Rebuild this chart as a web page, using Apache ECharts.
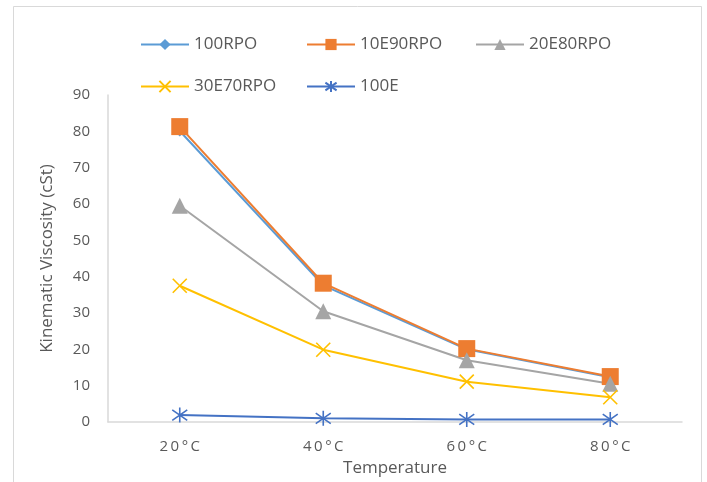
<!DOCTYPE html>
<html>
<head>
<meta charset="utf-8">
<script src="https://cdn.jsdelivr.net/npm/echarts@6/dist/echarts.min.js"></script>
<style>
  html, body { margin: 0; padding: 0; background: #fff; }
  #chart { width: 707px; height: 482px; }
</style>
</head>
<body>
<div id="chart"></div>
<script>
// data
const temps = ['20°C', '40°C', '60°C', '80°C'];
const rpo100 = [80.1, 37.6, 20.0, 12.3];
const e10rpo90 = [81.3, 38.2, 20.2, 12.5];
const e20rpo80 = [59.5, 30.5, 17.0, 10.5];
const e30rpo70 = [37.5, 19.9, 11.1, 6.8];
const e100 = [1.9, 1.0, 0.7, 0.7];

const crossPath = 'path://M0,0L10,10M10,0L0,10';
const starPath = 'path://M5,0L5,10M0,1.5L10,8.5M10,1.5L0,8.5';

const chart = echarts.init(document.getElementById('chart'));

function mkSeries(name, data, color, symbol, size, stroke) {
  return {
    name: name,
    type: 'line',
    data: data,
    symbol: symbol,
    symbolSize: size,
    showAllSymbol: true,
    lineStyle: { color: color, width: 2 },
    itemStyle: stroke
      ? { color: color, borderColor: color, borderWidth: 1.6 }
      : { color: color, borderWidth: 0 },
    emphasis: { disabled: true },
    z: 2
  };
}

function mkLegend(name, left, top) {
  return {
    data: [name],
    left: left,
    top: top,
    padding: 0,
    itemWidth: 48,
    itemHeight: 14,
    itemGap: 4,
    textStyle: { color: '#595959', fontSize: 17, fontFamily: 'Open Sans' }
  };
}

const option = {
  animation: false,
  backgroundColor: '#fff',
  graphic: [{
    type: 'rect',
    shape: { x: 13.5, y: 6.5, width: 688, height: 495 },
    style: { fill: 'none', stroke: '#D9D9D9', lineWidth: 1 }
  }],
  legend: [
    mkLegend('100RPO', 140, 36),
    mkLegend('10E90RPO', 306, 36),
    mkLegend('20E80RPO', 475, 36),
    mkLegend('30E70RPO', 140, 78),
    mkLegend('100E', 306, 78)
  ],
  grid: { left: 108, right: 25, top: 95, bottom: 60 },
  xAxis: {
    type: 'category',
    data: temps,
    name: 'Temperature',
    nameLocation: 'middle',
    nameGap: 38,
    nameTextStyle: { color: '#595959', fontSize: 17, fontFamily: 'Open Sans' },
    axisLine: { lineStyle: { color: '#D9D9D9', width: 1.5 } },
    axisTick: { show: false },
    axisLabel: {
      color: '#595959', fontSize: 15, fontFamily: 'Open Sans', margin: 17,
      // the original spreads the characters apart
      formatter: function (v) { return v.split('').join('\u2009'); }
    }
  },
  yAxis: {
    type: 'value',
    min: 0,
    max: 90,
    interval: 10,
    name: 'Kinematic Viscosity (cSt)',
    nameLocation: 'middle',
    nameGap: 52,
    nameTextStyle: { color: '#595959', fontSize: 17, fontFamily: 'Open Sans' },
    axisLine: { show: true, lineStyle: { color: '#D9D9D9', width: 1.5 } },
    axisTick: { show: false },
    splitLine: { show: false },
    axisLabel: { color: '#595959', fontSize: 15, fontFamily: 'Open Sans', margin: 18 }
  },
  series: [
    mkSeries('100RPO', rpo100, '#5B9BD5', 'diamond', 11, false),
    mkSeries('10E90RPO', e10rpo90, '#ED7D31', 'rect', 17, false),
    mkSeries('20E80RPO', e20rpo80, '#A5A5A5', 'triangle', 16, false),
    mkSeries('30E70RPO', e30rpo70, '#FFC000', crossPath, 14, true),
    mkSeries('100E', e100, '#4472C4', starPath, 15, true)
  ]
};

chart.setOption(option);
</script>
</body>
</html>
